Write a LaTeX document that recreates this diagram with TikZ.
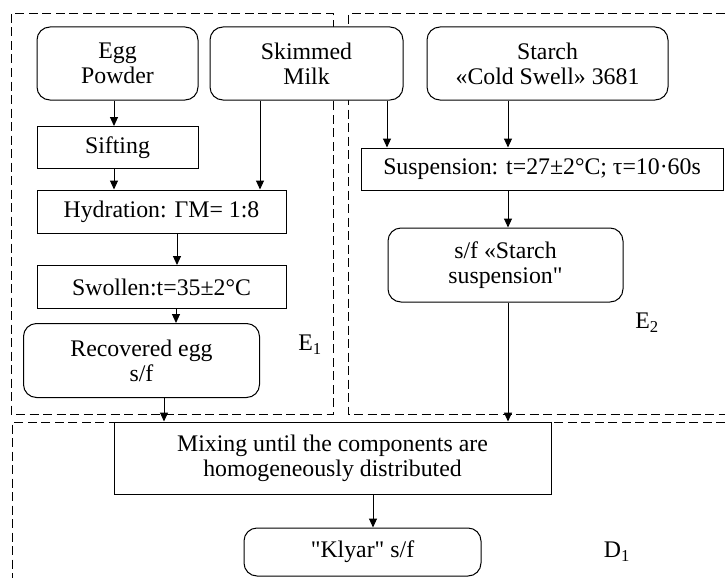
\documentclass[tikz,border=0pt]{standalone}
\usepackage{fontspec}
\setmainfont[Ligatures=TeXOff]{Liberation Serif}
\usetikzlibrary{arrows.meta}

\begin{document}
\begin{tikzpicture}[x=1pt,y=-1pt,line width=1pt,font=\fontsize{23.8}{25}\selectfont,
  box/.style={draw,fill=white,align=center,inner sep=2pt},
  rbox/.style={box,rounded corners=13pt},
  zone/.style={dash pattern=on 9pt off 4.5pt},
  arr/.style={-{Triangle[length=9pt,width=8pt]}}]
\useasboundingbox (0,0) rectangle (725,578);

            \draw[zone] (11,14) rectangle (333,414);
            \draw[zone] (725,14) -- (348,14) -- (348,414) -- (725,414);
            \draw[zone] (725,422) -- (12,422) -- (12,578);

            \node[rbox,minimum width=161pt,minimum height=73pt] (egg) at (117.5,63.5) {Egg\\Powder};
            \node[rbox,minimum width=193pt,minimum height=73pt] (milk) at (306.5,63.5) {Skimmed\\Milk};
            \node[rbox,minimum width=241pt,minimum height=73pt] (starch) at (547.5,63.5) {Starch\\«Cold Swell» 3681};
            \node[box,minimum width=161pt,minimum height=42pt] (sift) at (117.5,147.5) {Sifting};
            \node[box,minimum width=249pt,minimum height=43pt] (hydr) at (161.5,211.5) {Hydration: ΓM= 1:8};
            \node[box,minimum width=249pt,minimum height=43pt] (swell) at (161.5,287) {Swollen:t=35±2°C};
            \node[rbox,minimum width=236pt,minimum height=74pt] (egg sf) at (141.5,360.5) {Recovered egg\\s/f};
            \node[box,minimum width=362pt,minimum height=42pt] (susp) at (542,169) {Suspension: t=27±2°C; τ=10·60s};
            \node[rbox,minimum width=235pt,minimum height=74pt] (starch sf) at (505.5,265) {s/f «Starch\\suspension"};
            \node[box,minimum width=437pt,minimum height=72pt] (mix) at (332.5,458) {Mixing until the components are\\homogeneously distributed};
            \node[rbox,minimum width=237pt,minimum height=48pt] (klyar) at (362.5,552) {"Klyar" s/f};

            \node (e1) at (310,345) {E\textsubscript{1}};
            \node (e2) at (647,323) {E\textsubscript{2}};
            \node (d1) at (617,552) {D\textsubscript{1}};

            \draw[arr] (egg.south -| 114,0) -- (sift.north -| 114,0);
            \draw[arr] (sift.south -| 114,0) -- (hydr.north -| 114,0);
            \draw[arr] (milk.south -| 260,0) -- (hydr.north -| 260,0);
            \draw[arr] (milk.south -| 387,0) -- (susp.north -| 387,0);
            \draw[arr] (starch.south -| 508,0) -- (susp.north -| 508,0);
            \draw[arr] (hydr.south -| 177,0) -- (swell.north -| 177,0);
            \draw[arr] (swell.south -| 176,0) -- (egg sf.north -| 176,0);
            \draw[arr] (susp.south -| 508,0) -- (starch sf.north -| 508,0);
            \draw[arr] (egg sf.south -| 164,0) -- (mix.north -| 164,0);
            \draw[arr] (starch sf.south -| 508,0) -- (mix.north -| 508,0);
            \draw[arr] (mix.south -| 373,0) -- (klyar.north -| 373,0);
        \end{tikzpicture}
\end{document}
